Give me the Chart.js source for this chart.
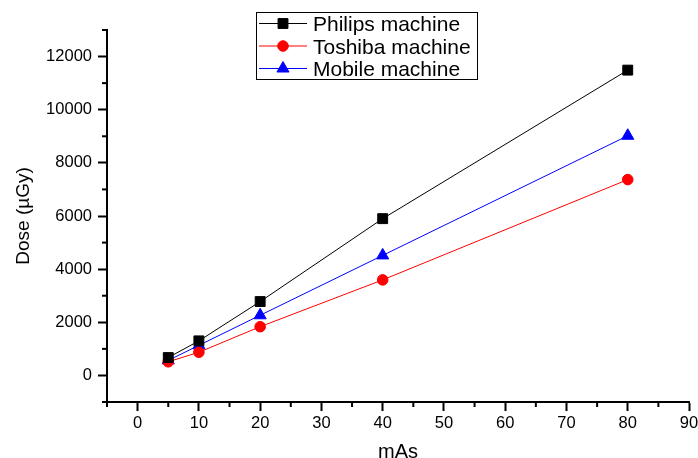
<!DOCTYPE html>
<html>
<head>
<meta charset="utf-8">
<script src="https://cdn.jsdelivr.net/npm/chart.js@4"></script>
<style>
html,body{margin:0;padding:0;background:#fff;}
#wrap{width:698px;height:458px;position:relative;}
</style>
</head>
<body>
<div id="wrap"><canvas id="c"></canvas></div>
<script>
const mAs = [5, 10, 20, 40, 80];
const philips = [672, 1300, 2780, 5900, 11490];
const toshiba = [513, 872, 1834, 3596, 7370];
const mobile = [566, 1132, 2264, 4517, 9020];
const seriesLabels = ['Philips machine', 'Toshiba machine', 'Mobile machine'];
const xTitle = 'mAs';
const yTitle = 'Dose (µGy)';

const FONT = "'Liberation Sans', Arial, sans-serif";

function pts(ys){ return mAs.map((x,i)=>({x:x, y:ys[i]})); }

const minorTicks = {
  id:'minorTicks',
  afterDraw(chart){
    const ctx = chart.ctx;
    ctx.save();
    ctx.strokeStyle = '#000';
    ctx.lineWidth = 2;
    const xs = chart.scales.x, ys = chart.scales.y;
    xs.ticks.forEach(t=>{
      if (t.value % 10 !== 0) {
        const p = xs.getPixelForValue(t.value);
        ctx.beginPath(); ctx.moveTo(p, xs.top); ctx.lineTo(p, xs.top+5); ctx.stroke();
      }
    });
    ys.ticks.forEach(t=>{
      if (t.value % 2000 !== 0) {
        const p = ys.getPixelForValue(t.value);
        ctx.beginPath(); ctx.moveTo(ys.right, p); ctx.lineTo(ys.right-5, p); ctx.stroke();
      }
    });
    ctx.restore();
  }
};

const boxLegend = {
  id:'boxLegend',
  afterDraw(chart){
    const ctx = chart.ctx;
    ctx.save();
    ctx.strokeStyle = '#000';
    ctx.lineWidth = 1;
    ctx.strokeRect(256.5, 12.5, 221, 67);
    chart.data.datasets.forEach((ds,i)=>{
      const cy = 23.5 + i*22.5;
      ctx.strokeStyle = ds.borderColor;
      ctx.lineWidth = 1;
      ctx.beginPath(); ctx.moveTo(259, cy); ctx.lineTo(307, cy); ctx.stroke();
      ctx.fillStyle = ds.pointBackgroundColor;
      ctx.strokeStyle = ds.pointBorderColor;
      Chart.helpers.drawPoint(ctx, {pointStyle: ds.pointStyle, radius: ds.pointRadius, rotation:0, borderWidth:1}, 283, cy);
      ctx.fillStyle = '#000';
      ctx.font = '21px ' + FONT;
      ctx.textBaseline = 'alphabetic';
      ctx.textAlign = 'left';
      ctx.fillText(ds.label, 313, cy + 7.5);
    });
    ctx.restore();
  }
};

new Chart(document.getElementById('c'), {
  type:'line',
  data:{
    datasets:[
      {label:seriesLabels[0], data:pts(philips), borderColor:'#000000', backgroundColor:'#000000',
       pointBackgroundColor:'#000000', pointBorderColor:'#000000', pointStyle:'rect', pointRadius:7, borderWidth:1, pointBorderWidth:1},
      {label:seriesLabels[1], data:pts(toshiba), borderColor:'#ff0000', backgroundColor:'#ff0000',
       pointBackgroundColor:'#ff0000', pointBorderColor:'#ff0000', pointStyle:'circle', pointRadius:5.3, borderWidth:1, pointBorderWidth:1},
      {label:seriesLabels[2], data:pts(mobile), borderColor:'#0000ff', backgroundColor:'#0000ff',
       pointBackgroundColor:'#0000ff', pointBorderColor:'#0000ff', pointStyle:'triangle', pointRadius:7, borderWidth:1, pointBorderWidth:1}
    ]
  },
  options:{
    responsive:true, maintainAspectRatio:false, animation:false,
    layout:{padding:{left:0, top:30, right:9, bottom:0}},
    plugins:{legend:{display:false}, tooltip:{enabled:false}},
    scales:{
      x:{
        type:'linear', position:'bottom', min:-5, max:90,
        afterFit(s){ s.height = 56; s.paddingRight = 0; s.paddingLeft = 0; },
        ticks:{stepSize:5, autoSkip:false, maxRotation:0, color:'#000', padding:3,
          font:{family:FONT, size:16.5},
          callback:(v)=> v % 10 === 0 ? String(v) : ''},
        grid:{drawOnChartArea:false, drawTicks:true, tickLength:9, tickWidth:2,
          tickColor:(c)=> (c.tick && c.tick.value % 10 === 0) ? '#000' : 'rgba(0,0,0,0)'},
        border:{display:true, color:'#000', width:2},
        title:{display:true, text:xTitle, color:'#000', font:{family:FONT, size:20, lineHeight:0.53}, padding:0}
      },
      y:{
        type:'linear', position:'left', min:-1000, max:13000,
        afterFit(s){ s.width = 107; },
        ticks:{stepSize:1000, autoSkip:false, color:'#000', padding:6,
          font:{family:FONT, size:16.5},
          callback:(v)=> v % 2000 === 0 ? String(v) : ''},
        grid:{drawOnChartArea:false, drawTicks:true, tickLength:9, tickWidth:2,
          tickColor:(c)=> (c.tick && c.tick.value % 2000 === 0) ? '#000' : 'rgba(0,0,0,0)'},
        border:{display:true, color:'#000', width:2},
        title:{display:true, text:yTitle, color:'#000', font:{family:FONT, size:19}, padding:{top:12, bottom:0}}
      }
    }
  },
  plugins:[minorTicks, boxLegend]
});
</script>
</body>
</html>
